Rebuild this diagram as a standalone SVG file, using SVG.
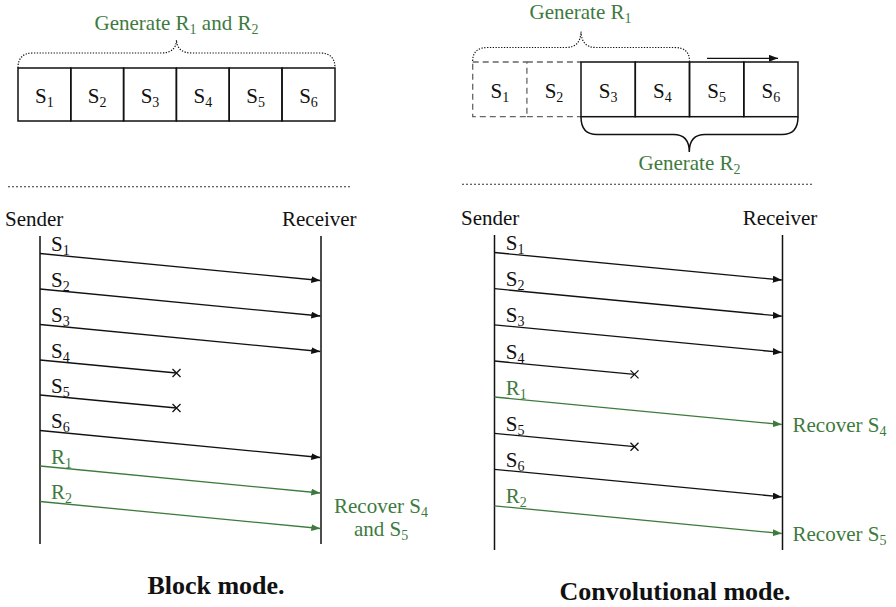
<svg xmlns="http://www.w3.org/2000/svg" width="896" height="607" viewBox="0 0 896 607" font-family="'Liberation Serif', 'DejaVu Serif', 'Noto Serif', serif">
<style>
text{font-family:'Liberation Serif','DejaVu Serif','Noto Serif',serif;font-size:21px;fill:#111}
.g{fill:#3e7a3e}
.cap{font-weight:bold;font-size:26px;text-anchor:middle}
.mid{text-anchor:middle}
.box{fill:none;stroke:#111;stroke-width:1.5}
.dbox{fill:none;stroke:#666;stroke-width:1.3;stroke-dasharray:6 4}
.life{stroke:#111;stroke-width:1.5}
.msg{stroke:#111;stroke-width:1.3;fill:none}
.gmsg{stroke:#3e7a3e;stroke-width:1.3;fill:none}
.sep{stroke:#333;stroke-width:1.1;stroke-dasharray:2 2}
.dbrace{fill:none;stroke:#111;stroke-width:1.2;stroke-dasharray:1.3 1.5}
.brace{fill:none;stroke:#111;stroke-width:1.5}
.x{stroke:#111;stroke-width:1.3}
</style>
<defs>
<marker id="ab" markerUnits="userSpaceOnUse" markerWidth="9" markerHeight="7" refX="9" refY="3.5" orient="auto"><path d="M0,0 L9,3.5 L0,7 z" fill="#111"/></marker>
<marker id="ag" markerUnits="userSpaceOnUse" markerWidth="9" markerHeight="7" refX="9" refY="3.5" orient="auto"><path d="M0,0 L9,3.5 L0,7 z" fill="#3e7a3e"/></marker>
</defs>

<!-- Block mode: top -->
<g id="block-buffer">
<rect class="box" x="18" y="68" width="52.8" height="53"/>
<rect class="box" x="70.8" y="68" width="52.8" height="53"/>
<rect class="box" x="123.6" y="68" width="52.8" height="53"/>
<rect class="box" x="176.4" y="68" width="52.8" height="53"/>
<rect class="box" x="229.2" y="68" width="52.8" height="53"/>
<rect class="box" x="282" y="68" width="53" height="53"/>
<text class="mid" x="44.4" y="103">S<tspan font-size="14" dy="4">1</tspan></text>
<text class="mid" x="97.2" y="103">S<tspan font-size="14" dy="4">2</tspan></text>
<text class="mid" x="150" y="103">S<tspan font-size="14" dy="4">3</tspan></text>
<text class="mid" x="202.8" y="103">S<tspan font-size="14" dy="4">4</tspan></text>
<text class="mid" x="255.6" y="103">S<tspan font-size="14" dy="4">5</tspan></text>
<text class="mid" x="308.5" y="103">S<tspan font-size="14" dy="4">6</tspan></text>
<path class="dbrace" d="M18,68 Q18,53 33,53 L161,53 Q176,53 176.5,40 Q177,53 192,53 L320,53 Q335,53 335,68"/>
<text class="mid g" x="176.5" y="30">Generate R<tspan font-size="14" dy="4">1</tspan><tspan dy="-4"> and R</tspan><tspan font-size="14" dy="4">2</tspan></text>
</g>
<line class="sep" x1="8" y1="186.7" x2="351" y2="186.7"/>

<!-- Convolutional mode: top -->
<g id="conv-buffer">
<rect class="dbox" x="472.7" y="62" width="54.2" height="54.7"/>
<path class="dbox" d="M526.9,62 L581,62 M526.9,116.7 L581,116.7"/>
<rect class="box" x="581" y="62" width="54.3" height="54.7"/>
<rect class="box" x="635.3" y="62" width="54.2" height="54.7"/>
<rect class="box" x="689.5" y="62" width="54.3" height="54.7"/>
<rect class="box" x="743.8" y="62" width="54.2" height="54.7"/>
<text class="mid" x="499.8" y="98">S<tspan font-size="14" dy="4">1</tspan></text>
<text class="mid" x="554" y="98">S<tspan font-size="14" dy="4">2</tspan></text>
<text class="mid" x="608.2" y="98">S<tspan font-size="14" dy="4">3</tspan></text>
<text class="mid" x="662.4" y="98">S<tspan font-size="14" dy="4">4</tspan></text>
<text class="mid" x="716.6" y="98">S<tspan font-size="14" dy="4">5</tspan></text>
<text class="mid" x="770.9" y="98">S<tspan font-size="14" dy="4">6</tspan></text>
<path class="dbrace" d="M472.7,61 Q472.7,47.5 487.7,47.5 L566,47.5 Q580.5,47.5 581,31.5 Q581.5,47.5 596,47.5 L674.5,47.5 Q689.5,47.5 689.5,61"/>
<text class="mid g" x="580.5" y="19">Generate R<tspan font-size="14" dy="4">1</tspan></text>
<line class="msg" x1="707" y1="58.3" x2="778" y2="58.3" marker-end="url(#ab)"/>
<path class="brace" d="M581,117 Q581,134.5 597,134.5 L673.5,134.5 Q689.3,134.5 689.3,152 Q689.3,134.5 705,134.5 L782,134.5 Q798,134.5 798,117"/>
<text class="mid g" x="689.5" y="170">Generate R<tspan font-size="14" dy="4">2</tspan></text>
</g>
<line class="sep" x1="462" y1="184.3" x2="813" y2="184.3"/>

<!-- Block mode: sequence -->
<g id="block-sender">
<text x="5" y="226">Sender</text>
<line class="life" x1="40" y1="236" x2="40" y2="544"/>
</g>
<g id="block-receiver">
<text x="282" y="226">Receiver</text>
<line class="life" x1="321" y1="236" x2="321" y2="544"/>
<text class="mid g" x="381" y="513">Recover S<tspan font-size="14" dy="4">4</tspan></text>
<text class="mid g" x="381" y="536">and S<tspan font-size="14" dy="4">5</tspan></text>
</g>
<g id="block-connectors">
<line class="msg" x1="40" y1="253.5" x2="320.3" y2="280.5" marker-end="url(#ab)"/>
<line class="msg" x1="40" y1="289" x2="320.3" y2="316" marker-end="url(#ab)"/>
<line class="msg" x1="40" y1="324.5" x2="320.3" y2="351.5" marker-end="url(#ab)"/>
<line class="msg" x1="40" y1="360" x2="176.5" y2="373"/>
<path class="x" d="M172.5,369 L180.5,377 M180.5,369 L172.5,377"/>
<line class="msg" x1="40" y1="395" x2="176.5" y2="408"/>
<path class="x" d="M172.5,404 L180.5,412 M180.5,404 L172.5,412"/>
<line class="msg" x1="40" y1="430.5" x2="320.3" y2="457.5" marker-end="url(#ab)"/>
<line class="gmsg" x1="40" y1="466" x2="320.3" y2="493" marker-end="url(#ag)"/>
<line class="gmsg" x1="40" y1="501.5" x2="320.3" y2="528.5" marker-end="url(#ag)"/>
<text x="51" y="251">S<tspan font-size="14" dy="4">1</tspan></text>
<text x="51" y="286.5">S<tspan font-size="14" dy="4">2</tspan></text>
<text x="51" y="322">S<tspan font-size="14" dy="4">3</tspan></text>
<text x="51" y="357.5">S<tspan font-size="14" dy="4">4</tspan></text>
<text x="51" y="392.5">S<tspan font-size="14" dy="4">5</tspan></text>
<text x="51" y="428">S<tspan font-size="14" dy="4">6</tspan></text>
<text class="g" x="51" y="463.5">R<tspan font-size="14" dy="4">1</tspan></text>
<text class="g" x="51" y="499">R<tspan font-size="14" dy="4">2</tspan></text>
</g>
<text class="cap" x="216" y="594">Block mode.</text>

<!-- Convolutional mode: sequence -->
<g id="conv-sender">
<text x="461" y="225">Sender</text>
<line class="life" x1="494.5" y1="235" x2="494.5" y2="550"/>
</g>
<g id="conv-receiver">
<text x="742.7" y="225">Receiver</text>
<line class="life" x1="782.5" y1="235" x2="782.5" y2="550"/>
<text class="g" x="792.5" y="432">Recover S<tspan font-size="14" dy="4">4</tspan></text>
<text class="g" x="792.5" y="541">Recover S<tspan font-size="14" dy="4">5</tspan></text>
</g>
<g id="conv-connectors">
<line class="msg" x1="494.5" y1="252.5" x2="781.8" y2="280" marker-end="url(#ab)"/>
<line class="msg" x1="494.5" y1="288.7" x2="781.8" y2="316.2" marker-end="url(#ab)"/>
<line class="msg" x1="494.5" y1="324.9" x2="781.8" y2="352.4" marker-end="url(#ab)"/>
<line class="msg" x1="494.5" y1="361" x2="634.5" y2="374.4"/>
<path class="x" d="M630.5,370.4 L638.5,378.4 M638.5,370.4 L630.5,378.4"/>
<line class="gmsg" x1="494.5" y1="397" x2="781.8" y2="424.5" marker-end="url(#ag)"/>
<line class="msg" x1="494.5" y1="433.3" x2="634.5" y2="446.7"/>
<path class="x" d="M630.5,442.7 L638.5,450.7 M638.5,442.7 L630.5,450.7"/>
<line class="msg" x1="494.5" y1="469.4" x2="781.8" y2="496.9" marker-end="url(#ab)"/>
<line class="gmsg" x1="494.5" y1="505.8" x2="781.8" y2="533.5" marker-end="url(#ag)"/>
<text x="505.7" y="250">S<tspan font-size="14" dy="4">1</tspan></text>
<text x="505.7" y="286.2">S<tspan font-size="14" dy="4">2</tspan></text>
<text x="505.7" y="322.4">S<tspan font-size="14" dy="4">3</tspan></text>
<text x="505.7" y="358.5">S<tspan font-size="14" dy="4">4</tspan></text>
<text class="g" x="505.7" y="394.5">R<tspan font-size="14" dy="4">1</tspan></text>
<text x="505.7" y="430.8">S<tspan font-size="14" dy="4">5</tspan></text>
<text x="505.7" y="466.9">S<tspan font-size="14" dy="4">6</tspan></text>
<text class="g" x="505.7" y="503.3">R<tspan font-size="14" dy="4">2</tspan></text>
</g>
<text class="cap" x="675" y="600">Convolutional mode.</text>
</svg>
